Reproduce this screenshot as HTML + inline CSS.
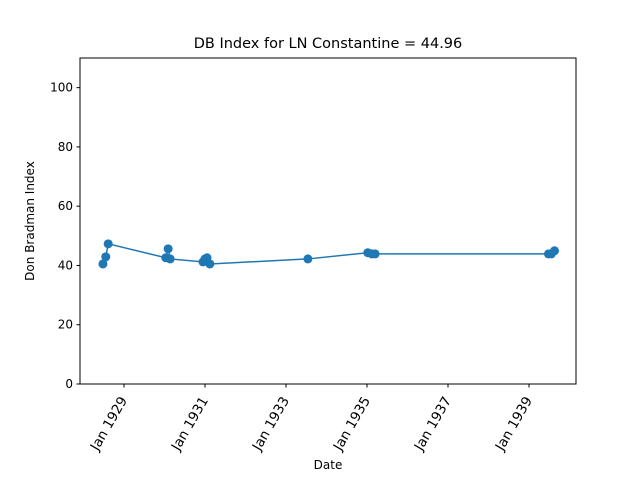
<!DOCTYPE html>
<html><head><meta charset="utf-8"><style>
body{margin:0;background:#fff;font-family:"DejaVu Sans","Liberation Sans",sans-serif;}
svg text{font-family:"DejaVu Sans","Liberation Sans",sans-serif;fill:#000;}
</style></head><body>
<svg id="chart" width="640" height="480" xmlns="http://www.w3.org/2000/svg">
<rect width="640" height="480" fill="#fff"/>
<text x="328" y="48" font-size="14.5" text-anchor="middle">DB Index for LN Constantine = 44.96</text>
<g id="ticks"></g>
<g id="series"></g>
<rect x="80" y="58" width="496" height="326" fill="none" stroke="#000" stroke-width="1"/>
<text x="328" y="469" font-size="12" text-anchor="middle">Date</text>
<text transform="translate(34,221) rotate(-90)" font-size="12" text-anchor="middle">Don Bradman Index</text>
</svg>
<script>
const dates = [1928.48,1928.55,1928.61,1930.03,1930.09,1930.14,1930.95,1931.0,1931.05,1931.12,1933.54,1935.02,1935.12,1935.2,1939.48,1939.55,1939.63];
const dbIndex = [40.5,42.9,47.3,42.6,45.6,42.2,41.2,42.2,42.6,40.5,42.2,44.3,43.9,43.9,43.9,43.9,44.96];
const yTicks = [0,20,40,60,80,100];
const xTickYears = [1929,1931,1933,1935,1937,1939];
const NS="http://www.w3.org/2000/svg";
function X(v){return 124+(v-1929)*40.5;}
function Y(v){return 384-(v/110)*326;}
const tg=document.getElementById('ticks'), sg=document.getElementById('series');
function mk(tag,attrs,parent){const e=document.createElementNS(NS,tag);for(const k in attrs)e.setAttribute(k,attrs[k]);parent.appendChild(e);return e;}
yTicks.forEach(t=>{
  const l=mk('line',{x1:76.5,x2:80,y1:Y(t),y2:Y(t),stroke:'#000'},tg);
  
  
  const tx=mk('text',{x:73,y:Y(t)+4,'font-size':12,'text-anchor':'end'},tg);
  
  
  tx.textContent=t;
});
xTickYears.forEach(t=>{
  const x=X(t);
  const l=mk('line',{x1:x,x2:x,y1:384,y2:387.5,stroke:'#000'},tg);
  
  
  const tx=mk('text',{transform:`translate(${x+3.5},${400}) rotate(-60)`,'font-size':13.5,'text-anchor':'end'},tg);
  
  
  tx.textContent='Jan '+t;
});
const line=mk('polyline',{points:dates.map((d,i)=>X(d)+','+Y(dbIndex[i])).join(' '),fill:'none',stroke:'#1f77b4','stroke-width':1.5},sg);


dates.forEach((d,i)=>{
  const c=mk('circle',{cx:X(d),cy:Y(dbIndex[i]),r:4.5,fill:'#1f77b4'},sg);
  
  
});
</script>
</body></html>
